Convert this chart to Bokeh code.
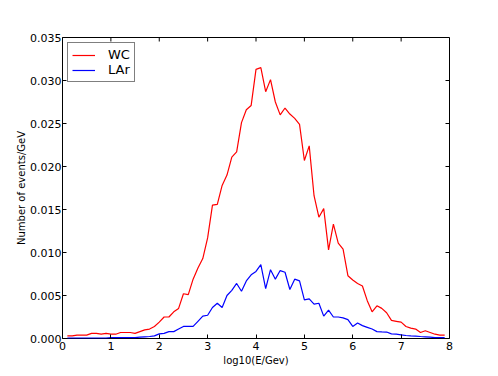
import math
from bokeh.plotting import figure
from bokeh.models import (Range1d, FixedTicker, PrintfTickFormatter,
                          Legend, LegendItem, ColumnDataSource)
from bokeh.embed import file_html
from bokeh.resources import INLINE

# ---- data ----
log_e = [round(0.1 * i, 1) for i in range(1, 80)]  # 0.1 .. 7.9

wc = [0.0003, 0.0003, 0.0004, 0.0004, 0.0004, 0.0006, 0.0006, 0.0005, 0.0006, 0.0005,
      0.0005, 0.0007, 0.0007, 0.0007, 0.0006, 0.0008, 0.0010, 0.0011, 0.0014, 0.0019,
      0.0025, 0.0025, 0.0031, 0.0035, 0.0052, 0.0051, 0.0069, 0.0082, 0.0093, 0.0117,
      0.0155, 0.0156, 0.0178, 0.0190, 0.0211, 0.0217, 0.0251, 0.0266, 0.0271, 0.0313,
      0.0315, 0.0287, 0.0301, 0.0275, 0.0260, 0.0268, 0.0261, 0.0256, 0.0249, 0.0207,
      0.0224, 0.0166, 0.0141, 0.0151, 0.0103, 0.0133, 0.0111, 0.0104, 0.0073, 0.0068,
      0.0064, 0.0061, 0.0044, 0.0031, 0.0038, 0.0035, 0.0030, 0.0021, 0.0020, 0.0019,
      0.0014, 0.0012, 0.0011, 0.0007, 0.0009, 0.0007, 0.0005, 0.0004, 0.0004]

lar = [0.00005, 0.00005, 0.00005, 0.00005, 0.00005, 0.00005, 0.00005, 0.00005, 0.00005, 0.0001,
       0.0001, 0.0001, 0.0001, 0.0001, 0.0001, 0.00015, 0.0002, 0.00023, 0.0003, 0.00054,
       0.0006, 0.0008, 0.0008, 0.0011, 0.0014, 0.0014, 0.0014, 0.0020, 0.0026, 0.0027,
       0.0036, 0.0041, 0.0036, 0.0050, 0.0056, 0.0064, 0.0055, 0.0067, 0.0074, 0.0078,
       0.0086, 0.0058, 0.0080, 0.0069, 0.0079, 0.0077, 0.0057, 0.0069, 0.0067, 0.0045,
       0.0046, 0.0040, 0.0041, 0.0026, 0.0033, 0.0025, 0.0025, 0.0024, 0.0022, 0.0014,
       0.0018, 0.0015, 0.0013, 0.0011, 0.0008, 0.00077, 0.00075, 0.00054, 0.0005, 0.00043,
       0.00035, 0.0003, 0.00027, 0.00023, 0.0002, 0.00015, 0.0001, 0.0001, 0.0001]

x_ticks = [0, 1, 2, 3, 4, 5, 6, 7, 8]
y_ticks = [0.0, 0.005, 0.010, 0.015, 0.020, 0.025, 0.030, 0.035]

series_names = ["WC", "LAr"]
series_colors = ["#ff0000", "#0000ff"]
x_label = "log10(E/Gev)"
y_label = "Number of events/GeV"

FONT = "DejaVu Sans"
X_MIN, X_MAX = x_ticks[0], x_ticks[-1]
Y_MIN, Y_MAX = y_ticks[0], y_ticks[-1]

src = ColumnDataSource(dict(x=log_e, wc=wc, lar=lar))

p = figure(width=498, height=376, output_backend="svg", toolbar_location=None,
           x_range=Range1d(X_MIN, X_MAX), y_range=Range1d(Y_MIN, Y_MAX),
           min_border_left=62, min_border_right=49, min_border_top=37, min_border_bottom=38,
           background_fill_color="white", border_fill_color="white")
p.grid.visible = False
p.outline_line_color = "black"
p.outline_line_width = 1

r_wc = p.line("x", "wc", source=src, line_color=series_colors[0], line_width=1.2)
r_lar = p.line("x", "lar", source=src, line_color=series_colors[1], line_width=1.2)

# inward ticks on top and right edges (matplotlib style)
p.ray(x=x_ticks, y=[Y_MAX] * len(x_ticks), length=4, length_units="screen",
      angle=-math.pi / 2, line_color="black", line_width=1)
p.ray(x=[X_MAX] * len(y_ticks), y=y_ticks, length=4, length_units="screen",
      angle=math.pi, line_color="black", line_width=1)

bx = p.below[0]
ly = p.left[0]
bx.ticker = FixedTicker(ticks=x_ticks)
ly.ticker = FixedTicker(ticks=y_ticks)
ly.formatter = PrintfTickFormatter(format="%.3f")

for ax in (bx, ly):
    ax.major_tick_in = 4
    ax.major_tick_out = 0
    ax.minor_tick_line_color = None
    ax.axis_line_color = None
    ax.major_tick_line_color = "black"
    ax.major_label_text_font = FONT
    ax.major_label_text_color = "black"
    ax.major_label_text_font_size = "11px"
    ax.axis_label_text_font = FONT
    ax.axis_label_text_font_style = "normal"
    ax.axis_label_text_color = "black"
    ax.axis_label_text_font_size = "10px"

bx.major_label_standoff = 3
ly.major_label_standoff = 1
bx.axis_label = x_label
ly.axis_label = y_label
bx.axis_label_standoff = 2
ly.axis_label_standoff = 0

legend = Legend(items=[LegendItem(label=series_names[0], renderers=[r_wc]),
                       LegendItem(label=series_names[1], renderers=[r_lar])],
                location="top_left")
legend.margin = 5
legend.padding = 4
legend.spacing = -6
legend.glyph_width = 23
legend.glyph_height = 14
legend.label_height = 14
legend.label_standoff = 13
legend.label_text_font = FONT
legend.label_text_font_size = "13px"
legend.label_text_color = "black"
legend.border_line_color = "black"
legend.border_line_width = 1
legend.background_fill_color = "white"
legend.background_fill_alpha = 1
p.add_layout(legend)

open("out.html", "w").write(file_html(p, INLINE))
